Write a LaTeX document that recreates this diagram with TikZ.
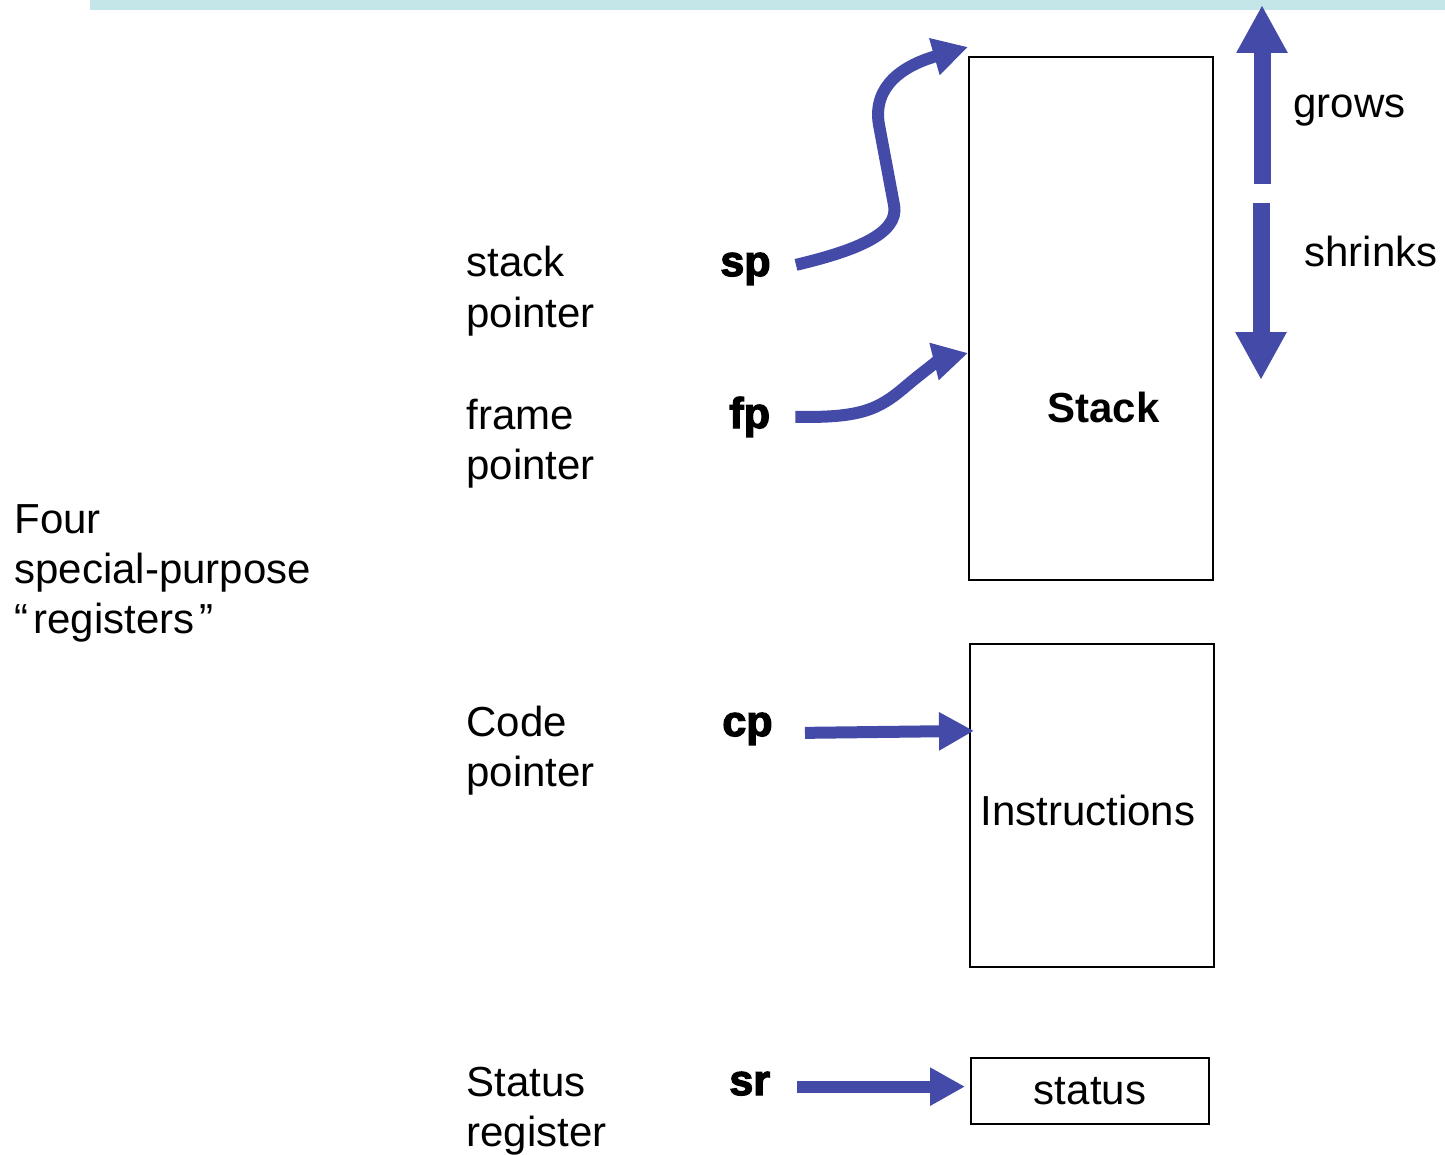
\documentclass[tikz,border=0pt]{standalone}
\usepackage{fontspec}
\setmainfont{Liberation Sans}
\newfontfamily\heavyfont{Liberation Sans}[BoldFeatures={FakeBold=3}]
\usetikzlibrary{arrows.meta,calc}

\definecolor{ptrblue}{HTML}{434AA8}
\definecolor{barcyan}{HTML}{C5E6E8}

\begin{document}
\begin{tikzpicture}[x=0.5pt,y=-0.5pt,
  txt/.style={inner sep=0pt, anchor=base west, align=left,
              font=\fontsize{21pt}{25pt}\selectfont},
  reg/.style={inner sep=0pt, anchor=base west,
              font=\fontsize{21.5pt}{25pt}\selectfont\heavyfont\bfseries},
  membox/.style={draw=black, line width=1pt, inner sep=0pt},
  ptr/.style={draw=ptrblue, line width=6pt,
              -{Triangle[length=17.5pt,width=18pt]}},
  bigptr/.style={draw=ptrblue, line width=8.5pt,
              -{Triangle[length=24pt,width=24pt]}},
]
\useasboundingbox (0,0) rectangle (1445,1155);

% title strip
\fill[barcyan] (90,0) rectangle (1445,10);

% memory regions
\node[membox, minimum width=122pt, minimum height=261.5pt] (stack) at (1091,318.5) {};
\node[membox, minimum width=122pt, minimum height=161.5pt] (instr) at (1092,805.5) {};
\node[membox, minimum width=119pt, minimum height=33pt,
      font=\fontsize{21pt}{25pt}\selectfont] (status) at (1090,1091) {status};

\node[txt, font=\fontsize{21pt}{25pt}\selectfont\bfseries] (stacklbl) at (1047,422) {Stack};
\node[txt] (instrlbl) at (980,825) {Instructions};

% register descriptions (anchored at the baseline of the last line)
\node[txt] (four)   at (14,633)   {Four\\special-purpose\\“\kern2.5pt registers\kern2.5pt”};
\node[txt] (spname) at (466,327)  {stack\\pointer};
\node[txt] (fpname) at (466,479)  {frame\\pointer};
\node[txt] (cpname) at (466,786)  {Code\\pointer};
\node[txt] (srname) at (466,1146) {Status\\register};

% register names
\node[reg] (sp) at (720,276)  {sp};
\node[reg] (fp) at (729,428)  {fp};
\node[reg] (cp) at (722,736)  {cp};
\node[reg] (sr) at (729,1095) {sr};

% pointers into memory
\draw[ptr] ([xshift=12.5pt,yshift=2pt]sp.east)
  .. controls (850,252) and (900,235) .. (894,205)
  -- (879,125)
  .. controls (872,85) and (905,65) .. ([yshift=4.5pt]stack.north west);
\draw[ptr] ([xshift=12.5pt]fp.east)
  .. controls (860,418) and (878,410) .. (905,387)
  .. controls (925,370) and (940,360) .. ([yshift=-17.25pt]stack.west);
\draw[ptr] ([xshift=16pt,yshift=-2pt]cp.east) -- ($(cp.east -| instr.west)+(5,2)$);
\draw[ptr] ([xshift=13.5pt,yshift=-1.5pt]sr.east) -- ($(sr.east -| status.west)+(-5,3)$);

% stack growth direction
\coordinate (growfrom) at (1262,184);
\coordinate (growto)   at (1262,5);
\coordinate (shrinkfrom) at (1261,203);
\coordinate (shrinkto)   at (1261,380);
\draw[bigptr] (growfrom) -- (growto);
\draw[bigptr] (shrinkfrom) -- (shrinkto);

\node[txt] (growslbl)   at (1293,118) {grows};
\node[txt] (shrinkslbl) at (1304,267) {shrinks};
\end{tikzpicture}
\end{document}
